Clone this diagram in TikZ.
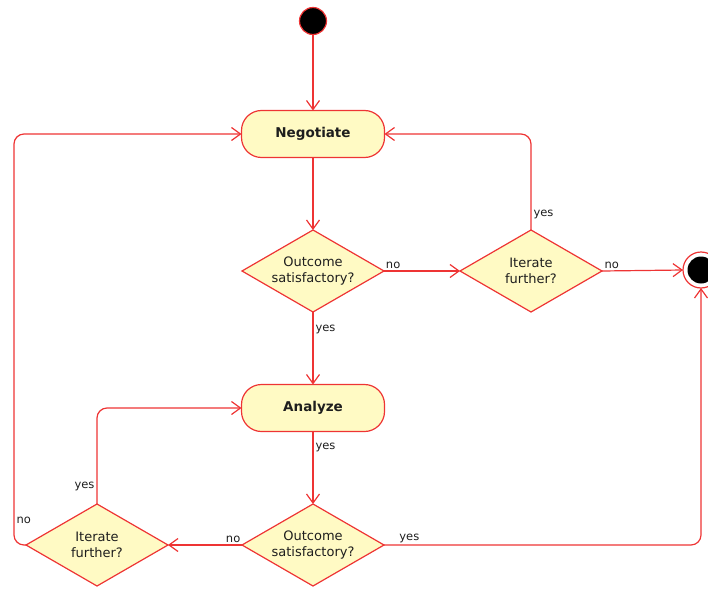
\documentclass[tikz,border=0pt]{standalone}
\usepackage{fontspec}
\setmainfont{DejaVu Sans}
\usetikzlibrary{shapes.geometric,arrows.meta}
\definecolor{umlred}{RGB}{238,52,52}
\definecolor{umlfill}{RGB}{255,250,196}
\definecolor{umltext}{RGB}{30,30,30}

\begin{document}
\begin{tikzpicture}[
        x=1pt, y=-1pt,
        every node/.style={text=umltext},
        action/.style={rectangle,rounded corners=20pt,draw=umlred,fill=umlfill,
          line width=1.2pt,minimum width=143pt,minimum height=47pt,
          font=\fontsize{13.5}{16}\selectfont\bfseries,outer sep=0pt},
        decision/.style={diamond,draw=umlred,fill=umlfill,line width=1.2pt,
          minimum width=142pt,minimum height=82pt,inner sep=0pt,aspect=1.7,
          align=center,font=\fontsize{13}{16}\selectfont,outer sep=0pt},
        flow/.style={draw=umlred,line width=1.2pt,
          -{Straight Barb[length=9pt,width=13pt,line width=1.2pt]}},
        guard/.style={font=\fontsize{11.5}{13}\selectfont,inner sep=2pt}
      ]
      \useasboundingbox (0,0) rectangle (708,588);
      % nodes
      \node (start) [circle,draw=umlred,fill=black,line width=1.2pt,
        minimum size=27pt,inner sep=0pt] at (313,21) {};
      \node (negotiate) [action] at (313,134) {Negotiate};
      \node (check1) [decision] at (313,271) {Outcome\\satisfactory?};
      \node (iterate1) [decision] at (531,271) {Iterate\\further?};
      \node (end) [circle,draw=umlred,fill=white,line width=1.2pt,
        minimum size=36pt,inner sep=0pt,outer sep=0pt] at (701,270) {};
      \node (endcore) [circle,fill=black,minimum size=27pt,inner sep=0pt]
        at (end.center) {};
      \node (analyze) [action] at (313,408) {Analyze};
      \node (check2) [decision] at (313,545) {Outcome\\satisfactory?};
      \node (iterate2) [decision] at (97,545) {Iterate\\further?};
      \coordinate (leftbend) at (14,545);

      % connectors
      \draw[flow] (start) -- (negotiate);
      \draw[flow] (negotiate) -- (check1);
      \draw[flow] (check1.east) -- node[guard,pos=0.12,above] {no} (iterate1.west);
      \draw[flow] (iterate1.east) -- node[guard,pos=0.12,above] {no} (end.west);
      \draw[flow,rounded corners=10pt] (iterate1.north) |- node[guard,pos=0.08,right] {yes}
        (negotiate.east);
      \draw[flow] (check1.south) -- node[guard,pos=0.24,right] {yes} (analyze);
      \draw[flow] (analyze) -- node[guard,pos=0.22,right] {yes} (check2);
      \draw[flow] (check2.west) -- node[guard,pos=0.12,above] {no} (iterate2.east);
      \draw[flow,rounded corners=10pt] (iterate2.north) |- node[guard,pos=0.09,left] {yes}
        (analyze.west);
      \draw[flow,rounded corners=10pt] (iterate2.west) -- (leftbend)
        -- node[guard,pos=0.06,right] {no} (leftbend |- negotiate.west) -- (negotiate.west);
      \draw[flow,rounded corners=10pt] (check2.east) -| node[guard,pos=0.04,above] {yes}
        (end.south);
    \end{tikzpicture}
\end{document}
